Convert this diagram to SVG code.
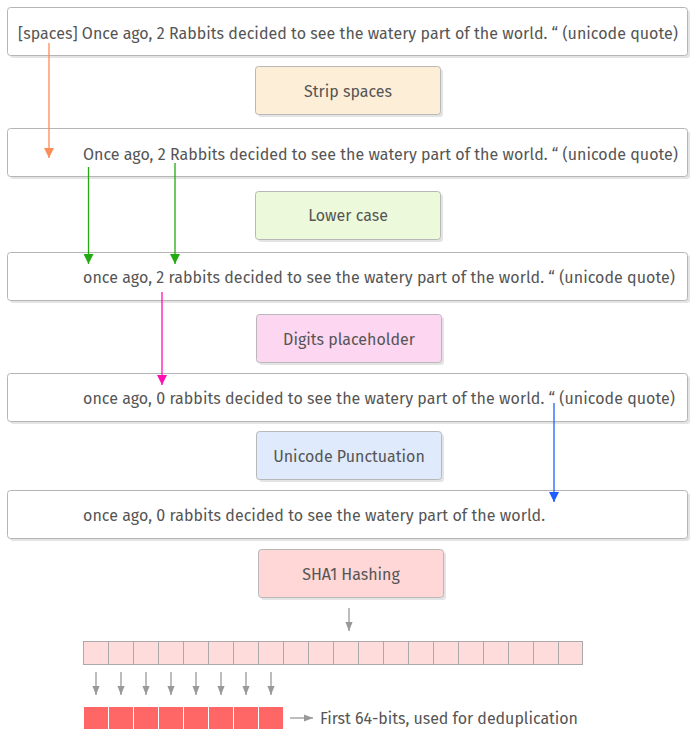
<svg xmlns="http://www.w3.org/2000/svg" width="700" height="741" viewBox="0 0 700 741">
<defs>
<style>
.t{font-family:"Fira Sans","Open Sans","Noto Sans","Liberation Sans",sans-serif;font-size:16px;fill:#555}
.c{text-anchor:middle}
.box{fill:#fff;stroke:#b5b5b5;stroke-width:1}
.sh{fill:#e4e4e4}
.pb{stroke:#b8b8b8;stroke-width:1}
.cell{fill:#fedcdc;stroke:#aaa;stroke-width:1}
.red{fill:#ff6666;stroke:#fff;stroke-width:1}
.ga{stroke:#999;stroke-width:1.3;fill:none}
</style>
<marker id="mo" viewBox="0 0 10 10" refX="10" refY="5" markerWidth="10" markerHeight="10" markerUnits="userSpaceOnUse" orient="auto"><path d="M0,0L10,5L0,10z" fill="#fb8d58"/></marker>
<marker id="mg" viewBox="0 0 10 10" refX="10" refY="5" markerWidth="10" markerHeight="10" markerUnits="userSpaceOnUse" orient="auto"><path d="M0,0L10,5L0,10z" fill="#22aa11"/></marker>
<marker id="mm" viewBox="0 0 10 10" refX="10" refY="5" markerWidth="10" markerHeight="10" markerUnits="userSpaceOnUse" orient="auto"><path d="M0,0L10,5L0,10z" fill="#ff10b0"/></marker>
<marker id="mb" viewBox="0 0 10 10" refX="10" refY="5" markerWidth="10" markerHeight="10" markerUnits="userSpaceOnUse" orient="auto"><path d="M0,0L10,5L0,10z" fill="#1f5fff"/></marker>
<marker id="mgr" viewBox="0 0 10 10" refX="10" refY="5" markerWidth="9" markerHeight="9" markerUnits="userSpaceOnUse" orient="auto"><path d="M0,1L10,5L0,9z" fill="#999"/></marker>
</defs>
<rect width="700" height="741" fill="#fff"/>

<g id="text1">
<rect class="sh" x="10" y="10" width="680" height="48" rx="3"/>
<rect class="box" x="7.5" y="7.5" width="680" height="48" rx="3"/>
<text class="t" x="18" y="39" textLength="660">[spaces] Once ago, 2 Rabbits decided to see the watery part of the world. “ (unicode quote)</text>
</g>
<g id="strip">
<rect class="sh" x="258" y="69" width="185" height="48" rx="3"/>
<rect class="pb" x="255.5" y="66.5" width="185" height="48" rx="3" fill="#fdeed8"/>
<text class="t c" x="348" y="97">Strip spaces</text>
</g>
<g id="text2">
<rect class="sh" x="10" y="131" width="680" height="48" rx="3"/>
<rect class="box" x="7.5" y="128.5" width="680" height="48" rx="3"/>
<text class="t" x="83" y="160" textLength="595">Once ago, 2 Rabbits decided to see the watery part of the world. “ (unicode quote)</text>
</g>
<g id="lower">
<rect class="sh" x="258" y="194" width="185" height="48" rx="3"/>
<rect class="pb" x="255.5" y="191.5" width="185" height="48" rx="3" fill="#ecf9da"/>
<text class="t c" x="348" y="221">Lower case</text>
</g>
<g id="text3">
<rect class="sh" x="10" y="255" width="680" height="48" rx="3"/>
<rect class="box" x="7.5" y="252.5" width="680" height="48" rx="3"/>
<text class="t" x="83" y="283" textLength="592">once ago, 2 rabbits decided to see the watery part of the world. “ (unicode quote)</text>
</g>
<g id="digits">
<rect class="sh" x="259" y="317" width="185" height="48" rx="3"/>
<rect class="pb" x="256.5" y="314.5" width="185" height="48" rx="3" fill="#fdd6f1"/>
<text class="t c" x="349" y="345">Digits placeholder</text>
</g>
<g id="text4">
<rect class="sh" x="10" y="376" width="680" height="48" rx="3"/>
<rect class="box" x="7.5" y="373.5" width="680" height="48" rx="3"/>
<text class="t" x="83" y="404" textLength="592">once ago, 0 rabbits decided to see the watery part of the world. “ (unicode quote)</text>
</g>
<g id="unicode">
<rect class="sh" x="259" y="434" width="185" height="48" rx="3"/>
<rect class="pb" x="256.5" y="431.5" width="185" height="48" rx="3" fill="#dfeafc"/>
<text class="t c" x="349" y="462">Unicode Punctuation</text>
</g>
<g id="text5">
<rect class="sh" x="10" y="493" width="680" height="48" rx="3"/>
<rect class="box" x="7.5" y="490.5" width="680" height="48" rx="3"/>
<text class="t" x="83" y="521" textLength="462">once ago, 0 rabbits decided to see the watery part of the world.</text>
</g>
<g id="sha1">
<rect class="sh" x="261" y="552" width="185" height="48" rx="3"/>
<rect class="pb" x="258.5" y="549.5" width="185" height="48" rx="3" fill="#ffd7d7"/>
<text class="t c" x="351" y="580">SHA1 Hashing</text>
</g>

<g id="bits">
<rect class="cell" x="83.5" y="641.5" width="25" height="23"/>
<rect class="cell" x="108.5" y="641.5" width="25" height="23"/>
<rect class="cell" x="133.5" y="641.5" width="25" height="23"/>
<rect class="cell" x="158.5" y="641.5" width="25" height="23"/>
<rect class="cell" x="183.5" y="641.5" width="25" height="23"/>
<rect class="cell" x="208.5" y="641.5" width="25" height="23"/>
<rect class="cell" x="233.5" y="641.5" width="25" height="23"/>
<rect class="cell" x="258.5" y="641.5" width="25" height="23"/>
<rect class="cell" x="283.5" y="641.5" width="25" height="23"/>
<rect class="cell" x="308.5" y="641.5" width="25" height="23"/>
<rect class="cell" x="333.5" y="641.5" width="25" height="23"/>
<rect class="cell" x="358.5" y="641.5" width="25" height="23"/>
<rect class="cell" x="383.5" y="641.5" width="25" height="23"/>
<rect class="cell" x="408.5" y="641.5" width="25" height="23"/>
<rect class="cell" x="433.5" y="641.5" width="25" height="23"/>
<rect class="cell" x="458.5" y="641.5" width="25" height="23"/>
<rect class="cell" x="483.5" y="641.5" width="25" height="23"/>
<rect class="cell" x="508.5" y="641.5" width="25" height="23"/>
<rect class="cell" x="533.5" y="641.5" width="25" height="23"/>
<rect class="cell" x="558.5" y="641.5" width="24" height="23"/>
</g>
<g id="first64">
<rect class="red" x="83.5" y="706.5" width="25" height="23"/>
<rect class="red" x="108.5" y="706.5" width="25" height="23"/>
<rect class="red" x="133.5" y="706.5" width="25" height="23"/>
<rect class="red" x="158.5" y="706.5" width="25" height="23"/>
<rect class="red" x="183.5" y="706.5" width="25" height="23"/>
<rect class="red" x="208.5" y="706.5" width="25" height="23"/>
<rect class="red" x="233.5" y="706.5" width="25" height="23"/>
<rect class="red" x="258.5" y="706.5" width="25" height="23"/>
<text class="t" x="320" y="724" textLength="258">First 64-bits, used for deduplication</text>
</g>

<g id="connectors">
<line x1="49" y1="43" x2="49" y2="158" stroke="#fb8d58" stroke-width="1.3" marker-end="url(#mo)"/>
<line x1="88.5" y1="167" x2="88.5" y2="264" stroke="#22aa11" stroke-width="1.3" marker-end="url(#mg)"/>
<line x1="175" y1="163" x2="175" y2="264" stroke="#22aa11" stroke-width="1.3" marker-end="url(#mg)"/>
<line x1="162" y1="292" x2="162" y2="385" stroke="#ff10b0" stroke-width="1.3" marker-end="url(#mm)"/>
<line x1="554" y1="403" x2="554" y2="502" stroke="#1f5fff" stroke-width="1.3" marker-end="url(#mb)"/>
<line class="ga" x1="349" y1="608" x2="349" y2="631" marker-end="url(#mgr)"/>
<line class="ga" x1="96" y1="672" x2="96" y2="695" marker-end="url(#mgr)"/>
<line class="ga" x1="121" y1="672" x2="121" y2="695" marker-end="url(#mgr)"/>
<line class="ga" x1="146" y1="672" x2="146" y2="695" marker-end="url(#mgr)"/>
<line class="ga" x1="171" y1="672" x2="171" y2="695" marker-end="url(#mgr)"/>
<line class="ga" x1="196" y1="672" x2="196" y2="695" marker-end="url(#mgr)"/>
<line class="ga" x1="221" y1="672" x2="221" y2="695" marker-end="url(#mgr)"/>
<line class="ga" x1="246" y1="672" x2="246" y2="695" marker-end="url(#mgr)"/>
<line class="ga" x1="271" y1="672" x2="271" y2="695" marker-end="url(#mgr)"/>
<line class="ga" x1="290" y1="718" x2="313" y2="718" marker-end="url(#mgr)"/>
</g>
</svg>
